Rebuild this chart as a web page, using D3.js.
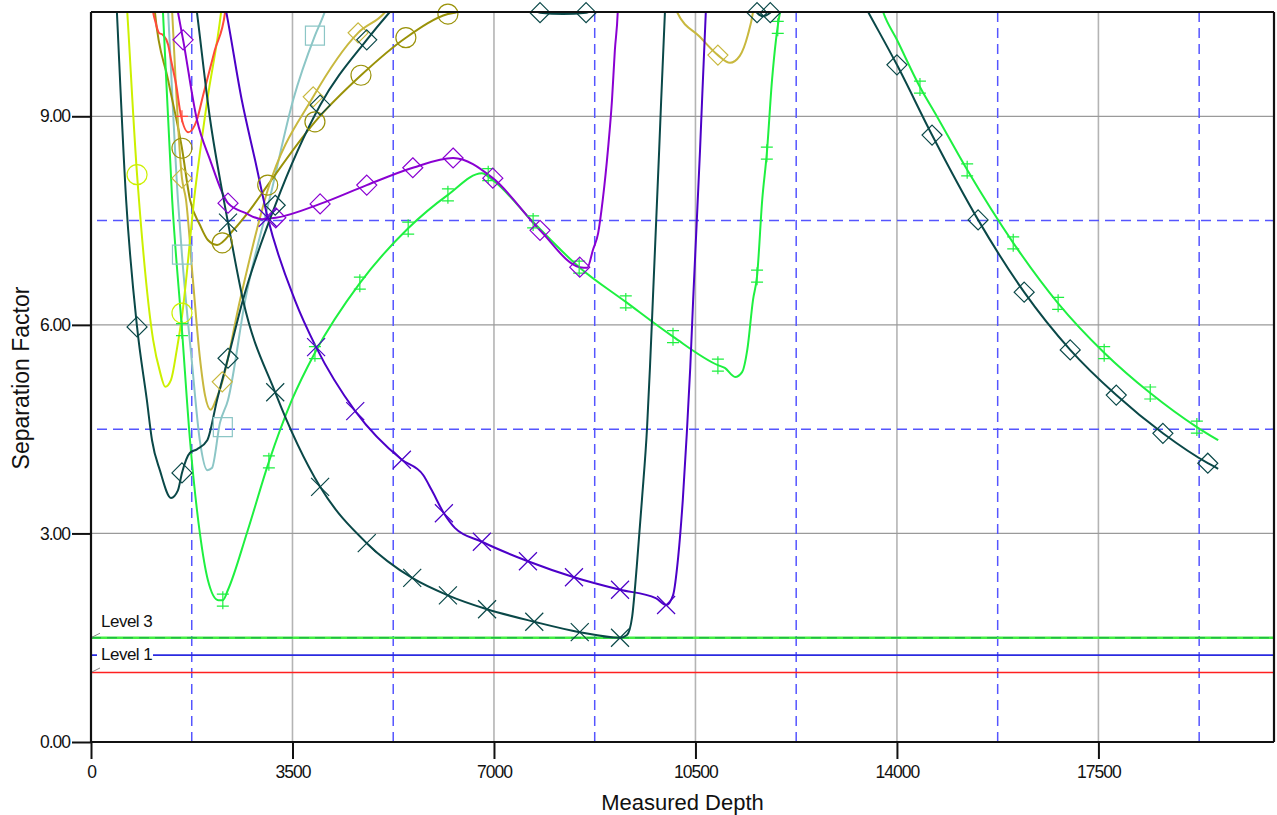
<!DOCTYPE html>
<html>
<head>
<meta charset="utf-8">
<script src="https://cdn.jsdelivr.net/npm/d3@7"></script>
<style>
  body { margin: 0; background: #fff; }
  text { font-family: "Liberation Sans", Arial, sans-serif; }
</style>
</head>
<body>
<div id="chart-area"></div>
<script>
const FIGURE = { WIDTH: 1277, HEIGHT: 815 };
const PLOT = { LEFT: 91, TOP: 12, RIGHT: 1274, BOTTOM: 742 };

// axis ticks and reference grid
const xTicks = [0, 3500, 7000, 10500, 14000, 17500];
const yTicks = [0, 3, 6, 9];
const xDashed = [1750, 5250, 8750, 12250, 15750, 19250];
const yDashed = [1.5, 4.5, 7.5];
const levelNames = ['Level 3', 'Level 1', ''];
const levelValues = [1.5, 1.25, 1.0];

// separation factor curves, [measured depth, separation factor]
const tealDiamondLine = [[420, 11.03], [450, 10.5], [610, 7.8], [800, 5.97], [970, 4.92], [1060, 4.34], [1200, 3.9],
    [1390, 3.51], [1510, 3.62], [1580, 3.87], [1720, 4.16], [1840, 4.21], [2020, 4.34], [2190, 4.92], [2380, 5.52],
    [2640, 6.36], [3200, 7.72], [3980, 9.16], [4790, 10.1], [5190, 10.5], [6060, 11.25], [7280, 10.82], [7800, 10.49],
    [8200, 10.47], [8600, 10.49], [9100, 10.96], [10580, 11.53], [11360, 10.82], [11570, 10.49], [11670, 10.44],
    [11800, 10.49], [12140, 10.96], [13010, 11.25], [13500, 10.5], [14000, 9.74], [14610, 8.73], [15410, 7.51],
    [16210, 6.47], [17010, 5.64], [17810, 4.99], [18620, 4.44], [19400, 4.01], [19580, 3.93]];
const tealDiamondMarks = [[800, 5.97], [1580, 3.87], [2380, 5.52], [3200, 7.72], [3980, 9.16], [4790, 10.1],
    [7800, 10.49], [8600, 10.49], [11570, 10.49], [11800, 10.49], [14000, 9.74], [14610, 8.73], [15410, 7.51],
    [16210, 6.47], [17010, 5.64], [17810, 4.99], [18620, 4.44], [19400, 4.01]];

const tealXLine = [[1770, 10.96], [1840, 10.5], [2070, 8.95], [2290, 7.87], [2380, 7.47], [2640, 6.36], [3200, 5.03],
    [3980, 3.67], [4790, 2.86], [5580, 2.36], [6200, 2.11], [6880, 1.91], [7700, 1.73], [8490, 1.58], [9190, 1.5],
    [9310, 1.54], [9400, 1.8], [9480, 2.52], [9570, 3.48], [9660, 4.53], [9710, 5.39], [9760, 6.36], [9870, 8.52],
    [9970, 10.5], [10010, 11.1]];
const tealXMarks = [[2380, 7.47], [3200, 5.03], [3980, 3.67], [4790, 2.86], [5580, 2.36], [6200, 2.11], [6880, 1.91],
    [7700, 1.73], [8490, 1.58], [9190, 1.5]];

const indigoXLine = [[2220, 11.03], [2350, 10.5], [2620, 9.23], [2850, 8.37], [3070, 7.54], [3540, 6.36], [3910, 5.68],
    [4590, 4.76], [5400, 4.06], [5770, 3.84], [5920, 3.62], [6130, 3.29], [6320, 3.08], [6790, 2.88], [7590, 2.6],
    [8390, 2.37], [9190, 2.19], [9810, 2.07], [9990, 1.97], [10110, 2.11], [10200, 2.66], [10280, 3.48], [10350, 4.44],
    [10410, 5.39], [10460, 6.36], [10580, 8.52], [10680, 10.5], [10720, 11.1]];
const indigoXMarks = [[3070, 7.54], [3910, 5.68], [4590, 4.76], [5400, 4.06], [6130, 3.29], [6790, 2.88], [7590, 2.6],
    [8390, 2.37], [9190, 2.19], [9990, 1.97]];

const purpleDiamondLine = [[1410, 10.96], [1510, 10.5], [1600, 10.1], [1840, 8.95], [2070, 8.37], [2380, 7.75],
    [2680, 7.61], [2970, 7.52], [3210, 7.54], [3980, 7.74], [4790, 8.01], [5590, 8.26], [6290, 8.4], [6980, 8.11],
    [7800, 7.36], [8490, 6.83], [8620, 6.82], [8720, 7.08], [8810, 7.32], [8890, 7.8], [8980, 8.52], [9050, 9.23],
    [9100, 9.95], [9150, 10.5], [9170, 10.96]];
const purpleDiamondMarks = [[1600, 10.1], [2380, 7.75], [3210, 7.54], [3980, 7.74], [4790, 8.01], [5590, 8.26],
    [6290, 8.4], [6980, 8.11], [7800, 7.36], [8490, 6.83]];

const greenLine = [[1220, 10.96], [1250, 10.5], [1410, 7.8], [1580, 5.93], [1720, 4.34], [1890, 3.01], [2030, 2.33],
    [2210, 2.04], [2290, 2.04], [2380, 2.19], [2710, 3.01], [3090, 4.03], [3490, 4.92], [3890, 5.6], [4670, 6.6],
    [5510, 7.39], [6200, 7.87], [6790, 8.18], [6980, 8.08], [7680, 7.48], [8480, 6.83], [9290, 6.33], [10110, 5.83],
    [10890, 5.42], [11010, 5.38], [11190, 5.25], [11310, 5.32], [11400, 5.64], [11500, 6.36], [11570, 6.7],
    [11660, 7.8], [11740, 8.47], [11830, 9.52], [11970, 10.5], [12320, 11.25], [13190, 11.53], [13620, 10.89],
    [13760, 10.5], [14000, 10.1], [14400, 9.42], [14700, 8.99], [15220, 8.23], [16020, 7.18], [16800, 6.31],
    [17600, 5.6], [18400, 5.02], [19210, 4.53], [19580, 4.34]];
const greenMarks = [[1580, 5.93], [2290, 2.04], [3090, 4.03], [3890, 5.6], [4670, 6.6], [5510, 7.39], [6200, 7.87],
    [6900, 8.16], [7680, 7.48], [8480, 6.83], [9290, 6.33], [10110, 5.83], [10890, 5.42], [11570, 6.7], [11740, 8.47],
    [11930, 10.28], [14400, 9.42], [15220, 8.23], [16020, 7.18], [16800, 6.31], [17600, 5.6], [18400, 5.02],
    [19210, 4.53]];

const chartreuseLine = [[590, 11.03], [630, 10.5], [800, 8.16], [820, 7.94], [1080, 5.78], [1200, 5.32], [1290, 5.11],
    [1390, 5.21], [1490, 5.64], [1580, 6.12], [1810, 7.94], [2020, 9.23], [2260, 10.5], [2330, 11.03]];
const chartreuseMarks = [[800, 8.16], [1580, 6.17]];

const redLine = [[1060, 10.82], [1080, 10.5], [1110, 10.39], [1180, 10.2], [1250, 10.17], [1340, 10.03], [1390, 9.81],
    [1480, 9.45], [1560, 9.02], [1690, 8.77], [1840, 8.95], [1950, 9.31], [2150, 9.95], [2330, 10.5], [2360, 10.82]];
const redMarks = [[1580, 9.0]];

const oliveLine = [[1090, 10.82], [1110, 10.5], [1340, 9.52], [1580, 8.54], [1720, 7.8], [1890, 7.44], [2030, 7.22],
    [2190, 7.15], [2470, 7.36], [2760, 7.65], [3070, 8.01], [3890, 8.92], [4690, 9.59], [5470, 10.13], [6200, 10.47],
    [6360, 10.5], [6760, 10.74]];
const oliveMarks = [[1580, 8.54], [2280, 7.18], [3070, 8.01], [3890, 8.92], [4690, 9.59], [5470, 10.13], [6200, 10.47]];

const khakiLine = [[1390, 10.82], [1410, 10.5], [1580, 8.11], [1650, 7.8], [1770, 6.65], [1890, 5.54], [1980, 4.99],
    [2080, 4.78], [2170, 4.92], [2280, 5.18], [2590, 6.36], [3070, 7.94], [3860, 9.28], [4640, 10.2], [5110, 10.5],
    [5370, 10.82], [7800, 11.53], [10060, 10.79], [10180, 10.5], [10580, 10.14], [10890, 9.88], [11100, 9.77],
    [11270, 9.87], [11410, 10.17], [11500, 10.5], [11550, 10.82]];
const khakiMarks = [[1580, 8.11], [2280, 5.18], [3860, 9.28], [4640, 10.2], [10890, 9.88]];

const lightTealLine = [[1320, 10.82], [1340, 10.5], [1510, 7.8], [1580, 7.01], [1750, 5.49], [1890, 4.34], [2020, 3.91],
    [2100, 3.94], [2240, 4.59], [2380, 4.92], [2680, 6.36], [3140, 7.94], [3510, 9.23], [3890, 10.16], [4060, 10.5],
    [4150, 10.74]];
const lightTealMarks = [[1580, 7.01], [2290, 4.53], [3890, 10.16]];

const seriesList = [
    { line: lightTealLine, marks: lightTealMarks, color: '#8cc6c6', marker: 'square' },
    { line: oliveLine, marks: oliveMarks, color: '#9a9208', marker: 'circle' },
    { line: khakiLine, marks: khakiMarks, color: '#c8b83e', marker: 'diamond' },
    { line: chartreuseLine, marks: chartreuseMarks, color: '#ccf000', marker: 'circle' },
    { line: redLine, marks: redMarks, color: '#ff4a3a', marker: 'plus' },
    { line: greenLine, marks: greenMarks, color: '#1ef040', marker: 'dbar' },
    { line: purpleDiamondLine, marks: purpleDiamondMarks, color: '#8a00d2', marker: 'diamond' },
    { line: indigoXLine, marks: indigoXMarks, color: '#4c00c8', marker: 'x' },
    { line: tealXLine, marks: tealXMarks, color: '#0a4848', marker: 'x' },
    { line: tealDiamondLine, marks: tealDiamondMarks, color: '#0a4848', marker: 'diamond' }
];

let svg = d3.select('#chart-area')
    .append('svg')
        .attr('width', FIGURE.WIDTH)
        .attr('height', FIGURE.HEIGHT);

let x = d3.scaleLinear().domain([0, 20550]).range([PLOT.LEFT, PLOT.RIGHT]);
let y = d3.scaleLinear().domain([0, 10.5]).range([PLOT.BOTTOM, PLOT.TOP]);

svg.append('defs').append('clipPath').attr('id', 'plot-clip')
    .append('rect')
        .attr('x', PLOT.LEFT).attr('y', PLOT.TOP)
        .attr('width', PLOT.RIGHT - PLOT.LEFT).attr('height', PLOT.BOTTOM - PLOT.TOP);

// solid grid
svg.append('g').selectAll('line')
    .data(xTicks.filter(d => d > 0))
    .enter().append('line')
        .attr('x1', d => x(d)).attr('x2', d => x(d))
        .attr('y1', PLOT.TOP).attr('y2', PLOT.BOTTOM)
        .attr('stroke', '#b4b4b4').attr('stroke-width', 1.6);
svg.append('g').selectAll('line')
    .data(yTicks.filter(d => d > 0))
    .enter().append('line')
        .attr('x1', PLOT.LEFT).attr('x2', PLOT.RIGHT)
        .attr('y1', d => y(d)).attr('y2', d => y(d))
        .attr('stroke', '#9a9a9a').attr('stroke-width', 1.3);

// dashed blue grid
svg.append('g').selectAll('line')
    .data(xDashed)
    .enter().append('line')
        .attr('x1', d => x(d)).attr('x2', d => x(d))
        .attr('y1', PLOT.TOP).attr('y2', PLOT.BOTTOM)
        .attr('stroke', '#5555ff').attr('stroke-width', 1.5)
        .attr('stroke-dasharray', '10,6');
svg.append('g').selectAll('line')
    .data(yDashed)
    .enter().append('line')
        .attr('x1', PLOT.LEFT + 6).attr('x2', PLOT.RIGHT)
        .attr('y1', d => y(d)).attr('y2', d => y(d))
        .attr('stroke', '#5555ff').attr('stroke-width', 1.5)
        .attr('stroke-dasharray', '10,6');

// level lines
const levelColors = ['#44ee44', '#2a2ae0', '#ff2020'];
let levels = svg.append('g');
levelValues.forEach((v, i) => {
    levels.append('line')
        .attr('x1', PLOT.LEFT).attr('x2', PLOT.RIGHT)
        .attr('y1', y(v)).attr('y2', y(v))
        .attr('stroke', levelColors[i]).attr('stroke-width', i === 0 ? 2.5 : 1.6);
});
levels.append('line')
    .attr('x1', PLOT.LEFT).attr('x2', PLOT.RIGHT)
    .attr('y1', y(levelValues[0])).attr('y2', y(levelValues[0]))
    .attr('stroke', '#22bb44').attr('stroke-width', 1.5).attr('stroke-dasharray', '10,6');
// small leader ticks at the left end
[0, 2].forEach(i => {
    levels.append('line')
        .attr('x1', PLOT.LEFT + 1).attr('y1', y(levelValues[i]) - 0.5)
        .attr('x2', PLOT.LEFT + 9).attr('y2', y(levelValues[i]) - 4.5)
        .attr('stroke', '#888').attr('stroke-width', 1);
});
// Level 1 label cuts its own line
levels.append('rect')
    .attr('x', PLOT.LEFT + 6).attr('y', y(levelValues[1]) - 3)
    .attr('width', 56).attr('height', 6)
    .attr('fill', '#fff');
levels.append('text')
    .attr('x', PLOT.LEFT + 10).attr('y', y(levelValues[0]) - 11)
    .attr('font-size', 17).attr('letter-spacing', -0.5).attr('fill', '#111')
    .text(levelNames[0]);
levels.append('text')
    .attr('x', PLOT.LEFT + 10).attr('y', y(levelValues[1]) + 5)
    .attr('font-size', 17).attr('letter-spacing', -0.5).attr('fill', '#111')
    .text(levelNames[1]);

// curves
let lineGen = d3.line()
    .x(d => x(d[0]))
    .y(d => y(d[1]))
    .curve(d3.curveMonotoneX);

let curves = svg.append('g').attr('clip-path', 'url(#plot-clip)');
seriesList.forEach(s => {
    curves.append('path')
        .attr('d', lineGen(s.line))
        .attr('fill', 'none')
        .attr('stroke', s.color)
        .attr('stroke-width', 2);
});

// markers
function markerPath(type, cx, cy) {
    switch (type) {
        case 'diamond':
            return `M${cx},${cy - 10}L${cx + 10},${cy}L${cx},${cy + 10}L${cx - 10},${cy}Z`;
        case 'square':
            return `M${cx - 9.5},${cy - 9.5}h19v19h-19Z`;
        case 'circle':
            return `M${cx - 10},${cy}a10,10 0 1,0 20,0a10,10 0 1,0 -20,0`;
        case 'x':
            return `M${cx - 9},${cy - 9}L${cx + 9},${cy + 9}M${cx - 9},${cy + 9}L${cx + 9},${cy - 9}`;
        case 'plus':
            return `M${cx - 6},${cy}h12M${cx},${cy - 6}v12`;
        case 'dbar':
            return `M${cx},${cy - 9}v18M${cx - 6},${cy - 6}h12M${cx - 6},${cy + 6}h12`;
    }
}
let markers = svg.append('g');
seriesList.forEach(s => {
    markers.selectAll(null)
        .data(s.marks)
        .enter().append('path')
            .attr('d', d => markerPath(s.marker, x(d[0]), y(d[1])))
            .attr('fill', 'none')
            .attr('stroke', s.color)
            .attr('stroke-width', 1.2);
});

// frame
let frame = svg.append('g').attr('stroke', '#111').attr('stroke-width', 2.2);
frame.append('line').attr('x1', PLOT.LEFT).attr('x2', PLOT.RIGHT).attr('y1', PLOT.TOP).attr('y2', PLOT.TOP);
frame.append('line').attr('x1', PLOT.RIGHT).attr('x2', PLOT.RIGHT).attr('y1', PLOT.TOP).attr('y2', PLOT.BOTTOM);

// axes
let xAxis = d3.axisBottom(x).tickValues(xTicks).tickFormat(d3.format('d')).tickSize(17).tickPadding(7);
let yAxis = d3.axisLeft(y).tickValues(yTicks).tickFormat(d3.format('.2f')).tickSize(19).tickPadding(2);

let gx = svg.append('g')
    .attr('transform', `translate(0, ${PLOT.BOTTOM})`)
    .call(xAxis);
let gy = svg.append('g')
    .attr('transform', `translate(${PLOT.LEFT}, 0)`)
    .call(yAxis);
[gx, gy].forEach(g => {
    g.select('.domain').attr('stroke', '#111').attr('stroke-width', 2.2);
    g.selectAll('.tick line').attr('stroke', '#111').attr('stroke-width', 2);
    g.selectAll('.tick text')
        .attr('fill', '#111')
        .attr('font-size', 17.5)
        .attr('letter-spacing', -1)
        .style('font-family', '"Liberation Sans", Arial, sans-serif');
});
gy.select('.domain').attr('d', `M0,${PLOT.BOTTOM}V${PLOT.TOP}`);
gx.select('.domain').attr('d', `M${PLOT.LEFT},0H${PLOT.RIGHT}`);

// axis titles
svg.append('text')
    .attr('x', (PLOT.LEFT + PLOT.RIGHT) / 2)
    .attr('y', 810)
    .attr('text-anchor', 'middle')
    .attr('font-size', 22)
    .attr('fill', '#111')
    .text('Measured Depth');
svg.append('text')
    .attr('transform', `translate(29, ${(PLOT.TOP + PLOT.BOTTOM) / 2 + 1}) rotate(-90)`)
    .attr('text-anchor', 'middle')
    .attr('font-size', 23)
    .attr('fill', '#111')
    .text('Separation Factor');
</script>
</body>
</html>
